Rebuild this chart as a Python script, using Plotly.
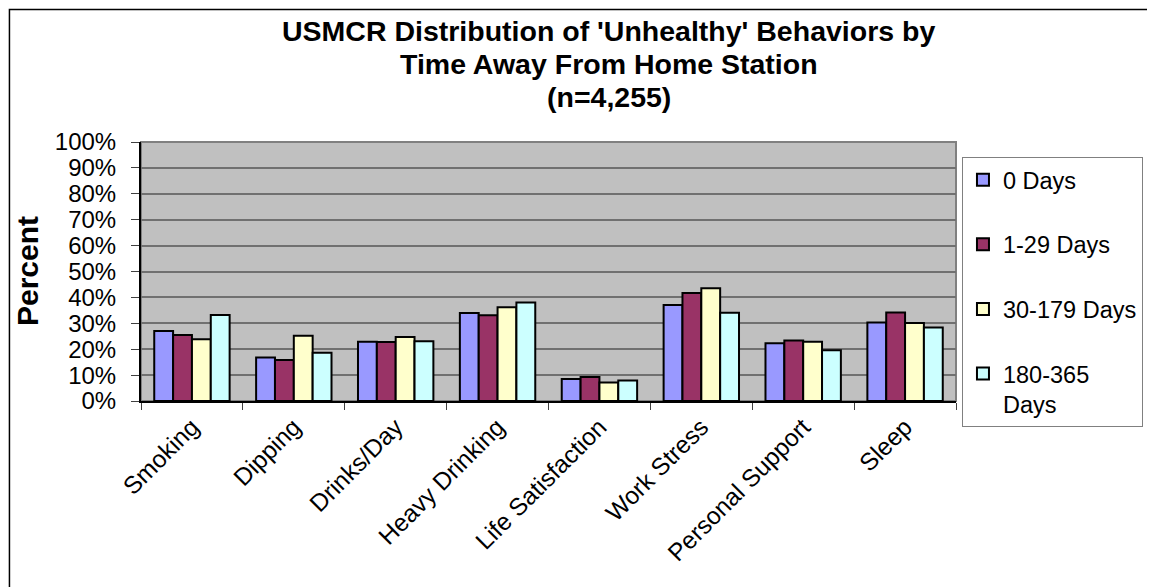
import plotly.graph_objects as go

categories = ["Smoking", "Dipping", "Drinks/Day", "Heavy Drinking",
              "Life Satisfaction", "Work Stress", "Personal Support", "Sleep"]
series_names = ["0 Days", "1-29 Days", "30-179 Days", "180-365<br>Days"]
days_0 = [27.0, 16.8, 22.9, 34.0, 8.5, 37.1, 22.3, 30.3]
days_1_29 = [25.5, 15.8, 22.8, 33.1, 9.3, 41.7, 23.4, 34.2]
days_30_179 = [23.8, 25.2, 24.7, 36.2, 7.1, 43.5, 22.9, 30.1]
days_180_365 = [33.2, 18.6, 23.1, 38.0, 7.9, 34.1, 19.6, 28.4]
colors = ["#9999FF", "#993366", "#FFFFCC", "#CCFFFF"]
y_ticks = list(range(0, 101, 10))
y_tick_text = [f"{v}%" for v in y_ticks]

FONT = "Liberation Sans, Arial, sans-serif"

fig = go.Figure()
for i, (name, vals) in enumerate(zip(series_names,
                                     [days_0, days_1_29, days_30_179, days_180_365])):
    fig.add_trace(go.Bar(
        x=categories, y=vals, name=name, legendgroup=f"g{i}",
        marker=dict(color=colors[i], line=dict(color="black", width=2)),
    ))

# the page body has an 8px margin: work in page pixels and convert
OFF = 8
W, H = 1155 - OFF, 587 - OFF
PL, PR, PT, PB = 141, 960, 142, 401          # plot area in page pixels
L, R, T, B = PL - OFF, W - (PR - OFF), PT - OFF, H - (PB - OFF)
pw, ph = W - L - R, H - T - B


def px_x(p):
    return (p - OFF - L) / pw


def px_y(p):
    return (H - B - (p - OFF)) / ph


fig.update_layout(
    width=W, height=H,
    margin=dict(l=L, r=R, t=T, b=B, pad=0),
    paper_bgcolor="white",
    plot_bgcolor="#C0C0C0",
    barmode="group", bargap=0.26, bargroupgap=0,
    font=dict(family=FONT, color="black", size=24),
    showlegend=True,
    legend=dict(
        x=px_x(966), y=px_y(157), xanchor="left", yanchor="top",
        bgcolor="white", bordercolor="#808080", borderwidth=1,
        font=dict(family=FONT, size=23.5, color="black"),
        traceorder="grouped", tracegroupgap=31, valign="top",
        itemwidth=30, maxheight=400,
    ),
    xaxis=dict(
        type="category", tickangle=-45, tickson="boundaries",
        ticks="outside", ticklen=7, tickcolor="#404040", tickwidth=1,
        showline=True, linecolor="black", linewidth=2,
        showgrid=False, tickfont=dict(size=24.5, family=FONT),
    ),
    yaxis=dict(
        range=[0, 100], tickmode="array", tickvals=y_ticks, ticktext=y_tick_text,
        ticks="outside", ticklen=8, tickcolor="#404040", tickwidth=1,
        showline=True, linecolor="black", linewidth=2,
        showgrid=True, gridcolor="#707070", gridwidth=1.5,
        zeroline=False, tickfont=dict(size=24, family=FONT),
        ticklabelstandoff=10,
    ),
)

# plot-area border (top/right in grey)
fig.add_shape(type="rect", xref="paper", yref="paper", x0=0, y0=0, x1=1, y1=1,
              line=dict(color="#808080", width=2), layer="below")
# outer chart border
fig.add_shape(type="rect", xref="paper", yref="paper",
              x0=px_x(8.8), y0=px_y(9.5), x1=px_x(1180), y1=px_y(610),
              line=dict(color="black", width=1.5))

title_lines = ["USMCR Distribution of 'Unhealthy' Behaviors by",
               "Time Away From Home Station", "(n=4,255)"]
title_y = [31, 64, 97]
for txt, yy in zip(title_lines, title_y):
    fig.add_annotation(text=f"<b>{txt}</b>", xref="paper", yref="paper",
                       x=px_x(611), y=px_y(yy), xanchor="center", yanchor="middle",
                       showarrow=False, font=dict(family=FONT, size=28.5, color="black"))

fig.add_annotation(text="<b>Percent</b>", xref="paper", yref="paper",
                   x=px_x(27), y=0.5, xanchor="center", yanchor="middle",
                   textangle=-90, showarrow=False,
                   font=dict(family=FONT, size=30, color="black"))

fig.write_html("out.html")
